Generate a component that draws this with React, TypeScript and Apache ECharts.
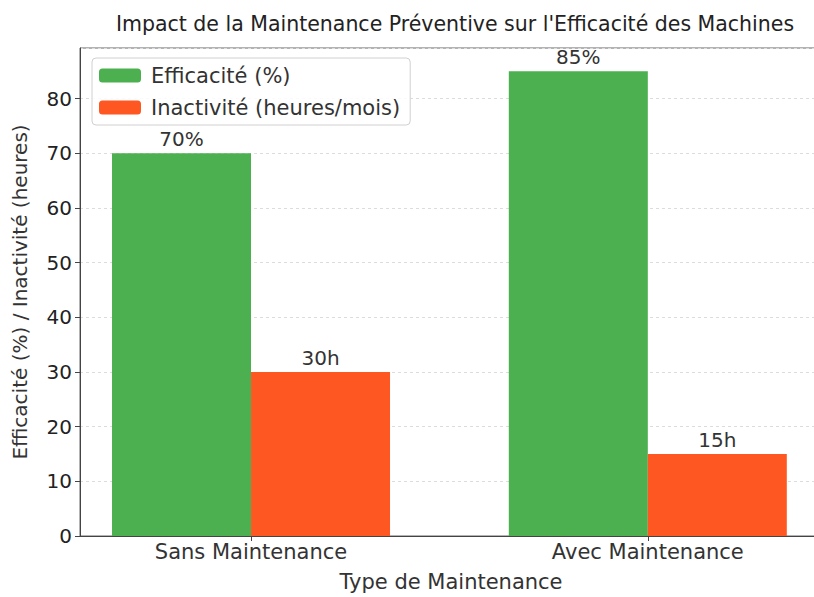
import React, { useEffect, useRef } from "react";
import * as echarts from "echarts";

const categories = ["Sans Maintenance", "Avec Maintenance"];
const efficacite = [70, 85];
const inactivite = [30, 15];
const yTicks = [0, 10, 20, 30, 40, 50, 60, 70, 80];

const FONT = "DejaVu Sans";

export default function App() {
  const ref = useRef<HTMLDivElement>(null);
  useEffect(() => {
    document.body.style.margin = "0";
    const chart = echarts.init(ref.current!, undefined, { renderer: "svg" });
    chart.setOption({
      animation: false,
      backgroundColor: "#fff",
      textStyle: { fontFamily: FONT },
      title: {
        text: "Impact de la Maintenance Préventive sur l'Efficacité des Machines",
        left: 450,
        textAlign: "center",
        top: 8,
        textStyle: { fontFamily: FONT, fontSize: 20.5, fontWeight: "normal", color: "#222" },
      },
      legend: {
        orient: "vertical",
        left: 92,
        top: 58,
        padding: [7, 10, 7, 7],
        itemWidth: 42,
        itemHeight: 14,
        itemGap: 11,
        borderColor: "#d0d0d0",
        borderWidth: 1,
        borderRadius: 4,
        backgroundColor: "rgba(255,255,255,0.85)",
        textStyle: { fontFamily: FONT, fontSize: 21, color: "#333", padding: [0, 0, 0, 5] },
        data: ["Efficacité (%)", "Inactivité (heures/mois)"],
      },
      grid: { left: 80, right: 8, top: 48, bottom: 59, show: true, borderColor: "#666", borderWidth: 1, containLabel: false },
      xAxis: {
        type: "value",
        min: -0.431,
        max: 1.439,
        name: "Type de Maintenance",
        nameLocation: "middle",
        nameGap: 35,
        nameTextStyle: { fontFamily: FONT, fontSize: 21, color: "#333" },
        axisLine: { onZero: false, lineStyle: { color: "#444" } },
        axisTick: { customValues: [0, 1], length: 5, lineStyle: { color: "#444" } },
        axisLabel: {
          customValues: [0, 1],
          formatter: (v: number) => categories[Math.round(v)] ?? "",
          fontFamily: FONT,
          fontSize: 21,
          color: "#333",
          margin: 5,
        },
        splitLine: { show: false },
      },
      yAxis: {
        type: "value",
        min: 0,
        max: 89.25,
        interval: 10,
        name: "Efficacité (%) / Inactivité (heures)",
        nameLocation: "middle",
        nameGap: 50,
        nameTextStyle: { fontFamily: FONT, fontSize: 20, color: "#333" },
        axisLine: { show: true, onZero: false, lineStyle: { color: "#444" } },
        axisTick: { show: true, length: 5, lineStyle: { color: "#444" } },
        axisLabel: {
          showMaxLabel: false,
          formatter: (v: number) => (yTicks.includes(v) ? String(v) : ""),
          fontFamily: FONT,
          fontSize: 20,
          color: "#222",
          margin: 8,
        },
        splitLine: { show: true, lineStyle: { color: "#dcdcdc", type: [3, 3], width: 1 } },
      },
      series: [
        {
          name: "Efficacité (%)",
          type: "bar",
          barWidth: 139,
          barGap: "0%",
          itemStyle: { color: "#4CAF50" },
          data: categories.map((_, i) => [i, efficacite[i]]),
          label: {
            show: true,
            position: "top",
            distance: 4,
            formatter: (p: any) => `${p.value[1]}%`,
            fontFamily: FONT,
            fontSize: 20,
            color: "#333",
          },
        },
        {
          name: "Inactivité (heures/mois)",
          type: "bar",
          barWidth: 139,
          barGap: "0%",
          itemStyle: { color: "#FF5722" },
          data: categories.map((_, i) => [i, inactivite[i]]),
          label: {
            show: true,
            position: "top",
            distance: 4,
            formatter: (p: any) => `${p.value[1]}h`,
            fontFamily: FONT,
            fontSize: 20,
            color: "#333",
          },
        },
      ],
    });
    return () => chart.dispose();
  }, []);
  return (
    <div style={{ width: 814, height: 597, overflow: "hidden", position: "relative" }}>
      <div ref={ref} style={{ width: 830, height: 597 }} />
    </div>
  );
}
